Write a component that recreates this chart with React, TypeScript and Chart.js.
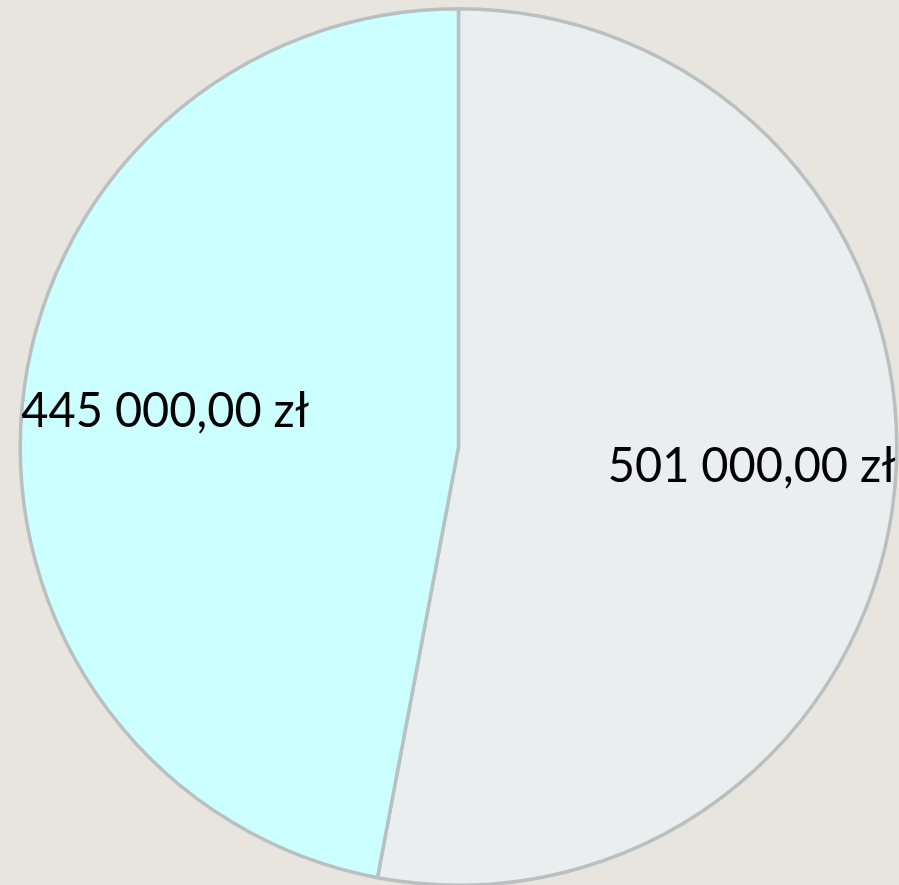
import React, { useEffect, useRef } from "react";
import { Chart, registerables } from "chart.js";

Chart.register(...registerables);

const categories = ["A", "B"];
const values = [501000, 445000];
const labels = ["501 000,00 zł", "445 000,00 zł"];
const colors = ["#EAEEEF", "#CCFFFF"];

const labelPlugin = {
  id: "sliceLabels",
  afterDatasetsDraw(chart: any) {
    const ctx = chart.ctx;
    const meta = chart.getDatasetMeta(0);
    ctx.save();
    ctx.fillStyle = "#000000";
    ctx.font = "48px Lato";
    ctx.textAlign = "center";
    ctx.textBaseline = "middle";
    meta.data.forEach((arc: any, i: number) => {
      const { x, y, startAngle, endAngle, outerRadius } = arc.getProps(
        ["x", "y", "startAngle", "endAngle", "outerRadius"],
        true
      );
      const mid = (startAngle + endAngle) / 2;
      const d = outerRadius * 0.672;
      const px = x + Math.cos(mid) * d;
      const py = y + Math.sin(mid) * d - 8;
      const w = ctx.measureText(labels[i]).width;
      const sx = 288 / w;
      ctx.save();
      ctx.translate(px, py);
      ctx.scale(sx, 1);
      ctx.fillText(labels[i], 0, 0);
      ctx.restore();
    });
    ctx.restore();
  },
};

export default function App() {
  const ref = useRef<HTMLCanvasElement>(null);
  useEffect(() => {
    if (!ref.current) return;
    const chart = new Chart(ref.current, {
      type: "pie",
      data: {
        labels: categories,
        datasets: [
          {
            data: values,
            backgroundColor: colors,
            borderColor: "#B9C0C1",
            borderWidth: 3.5,
          },
        ],
      },
      options: {
        animation: false,
        responsive: false,
        layout: { padding: { left: 18, right: 0, top: 7, bottom: 13 } },
        plugins: {
          legend: { display: false },
          tooltip: { enabled: false },
        },
      },
      plugins: [labelPlugin],
    });
    return () => chart.destroy();
  }, []);
  return (
    <div
      style={{
        position: "fixed",
        left: 0,
        top: 0,
        width: 899,
        height: 885,
        overflow: "hidden",
        background: "#E8E4DE",
      }}
    >
      <canvas ref={ref} width={899} height={900} style={{ display: "block" }} />
    </div>
  );
}
